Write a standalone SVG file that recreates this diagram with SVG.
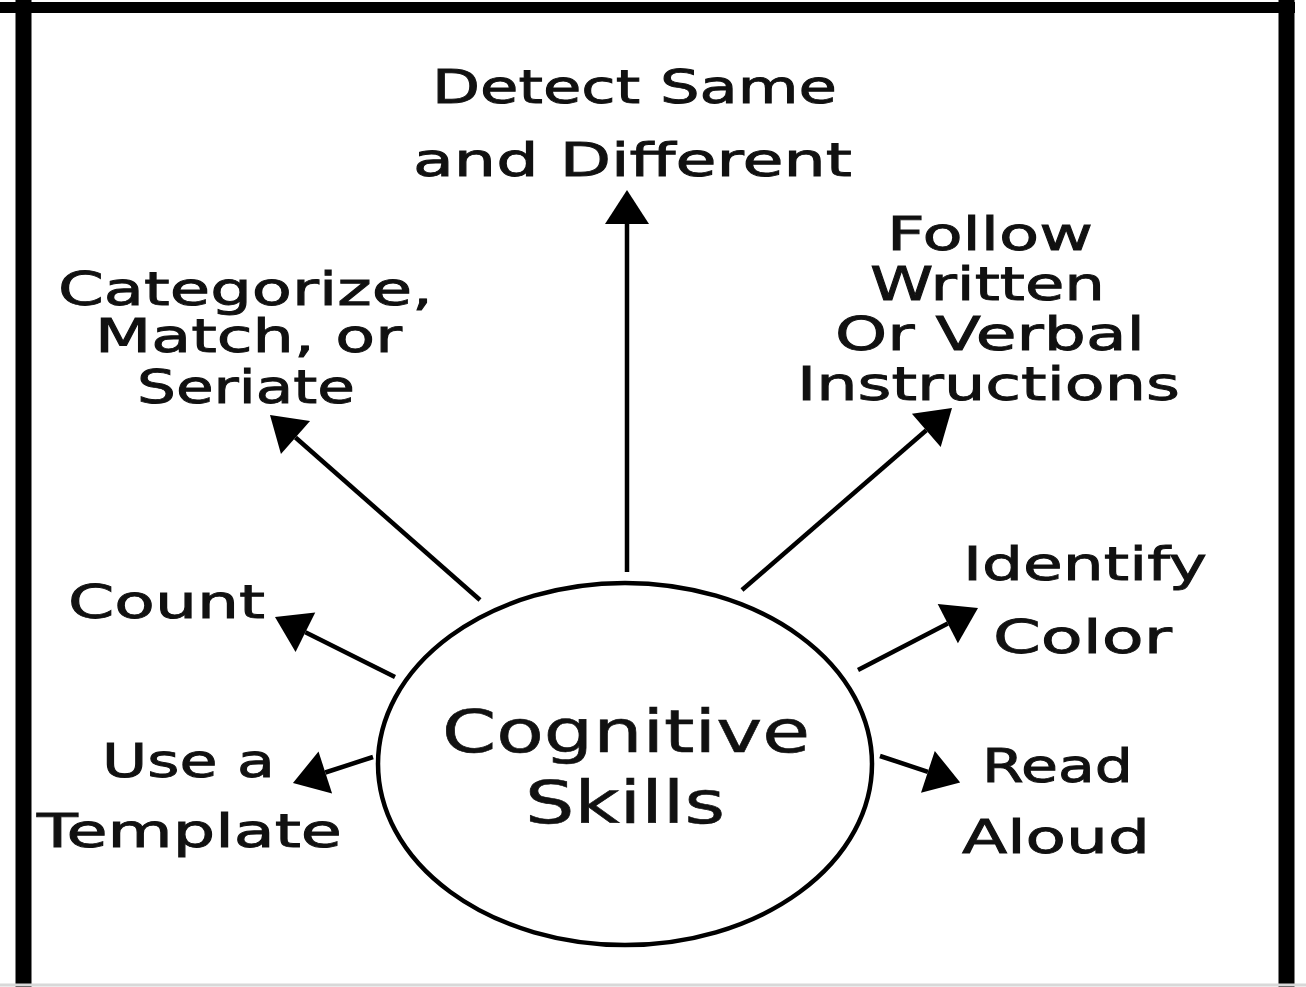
<svg xmlns="http://www.w3.org/2000/svg" width="1306" height="987" viewBox="0 0 1306 987">
<style>
  .lbl { font-family: "DejaVu Sans", "Verdana", sans-serif; font-size: 47px; fill: #111; stroke: #111; stroke-width: 0.9px; }
  .ctr { font-family: "DejaVu Sans", "Verdana", sans-serif; font-size: 58px; fill: #111; stroke: #111; stroke-width: 0.6px; }
  .conn { stroke: #000; stroke-width: 4.5; fill: none; marker-end: url(#ah); }
  .frame { stroke: #000; fill: none; }
</style>
<defs>
  <marker id="ah" viewBox="0 -22 34 44" refX="0" refY="0" markerWidth="34" markerHeight="44" markerUnits="userSpaceOnUse" orient="auto" overflow="visible">
    <path d="M0,-22 L34,0 L0,22 Z" fill="#000"/>
  </marker>
</defs>
<rect width="1306" height="987" fill="#fff"/>
<g id="frame">
  <line class="frame" x1="0" y1="7.5" x2="1295" y2="7.5" stroke-width="11"/>
  <line class="frame" x1="23.5" y1="0" x2="23.5" y2="987" stroke-width="16"/>
  <line class="frame" x1="1286.5" y1="0" x2="1286.5" y2="987" stroke-width="16"/>
  <line x1="0" y1="985" x2="1306" y2="985" stroke="#d8d8d8" stroke-width="3"/>
</g>
<g id="connectors">
  <path class="conn" d="M627,572 L627,224"/>
  <path class="conn" d="M480,600 L295.5,437.5"/>
  <path class="conn" d="M742,590 L926.3,430.3"/>
  <path class="conn" d="M395,677 L305.4,632.2"/>
  <path class="conn" d="M858,670 L947.8,623.6"/>
  <path class="conn" d="M373,757 L325.3,772.5"/>
  <path class="conn" d="M880,756 L927.9,771.8"/>
</g>
<g id="node-center">
  <ellipse cx="625" cy="764" rx="247" ry="181" fill="none" stroke="#000" stroke-width="4.5"/>
  <text class="ctr" x="442" y="752" textLength="368" lengthAdjust="spacingAndGlyphs">Cognitive</text>
  <text class="ctr" x="525" y="823" textLength="200" lengthAdjust="spacingAndGlyphs">Skills</text>
</g>
<g id="node-detect">
  <text class="lbl" x="432" y="103" textLength="405" lengthAdjust="spacingAndGlyphs">Detect Same</text>
  <text class="lbl" x="413" y="176" textLength="439" lengthAdjust="spacingAndGlyphs">and Different</text>
</g>
<g id="node-categorize">
  <text class="lbl" x="58" y="305" textLength="375" lengthAdjust="spacingAndGlyphs">Categorize,</text>
  <text class="lbl" x="95" y="352" textLength="307" lengthAdjust="spacingAndGlyphs">Match, or</text>
  <text class="lbl" x="137" y="403" textLength="218" lengthAdjust="spacingAndGlyphs">Seriate</text>
</g>
<g id="node-follow">
  <text class="lbl" x="887" y="250" textLength="206" lengthAdjust="spacingAndGlyphs">Follow</text>
  <text class="lbl" x="870" y="300" textLength="235" lengthAdjust="spacingAndGlyphs">Written</text>
  <text class="lbl" x="835" y="350" textLength="310" lengthAdjust="spacingAndGlyphs">Or Verbal</text>
  <text class="lbl" x="797" y="400" textLength="383" lengthAdjust="spacingAndGlyphs">Instructions</text>
</g>
<g id="node-count">
  <text class="lbl" x="68" y="618" textLength="197" lengthAdjust="spacingAndGlyphs">Count</text>
</g>
<g id="node-template">
  <text class="lbl" x="102" y="777" textLength="173" lengthAdjust="spacingAndGlyphs">Use a</text>
  <text class="lbl" x="37" y="847" textLength="305" lengthAdjust="spacingAndGlyphs">Template</text>
</g>
<g id="node-identify">
  <text class="lbl" x="963" y="580" textLength="244" lengthAdjust="spacingAndGlyphs">Identify</text>
  <text class="lbl" x="993" y="653" textLength="179" lengthAdjust="spacingAndGlyphs">Color</text>
</g>
<g id="node-read">
  <text class="lbl" x="982" y="782" textLength="151" lengthAdjust="spacingAndGlyphs">Read</text>
  <text class="lbl" x="962" y="853" textLength="188" lengthAdjust="spacingAndGlyphs">Aloud</text>
</g>
</svg>
